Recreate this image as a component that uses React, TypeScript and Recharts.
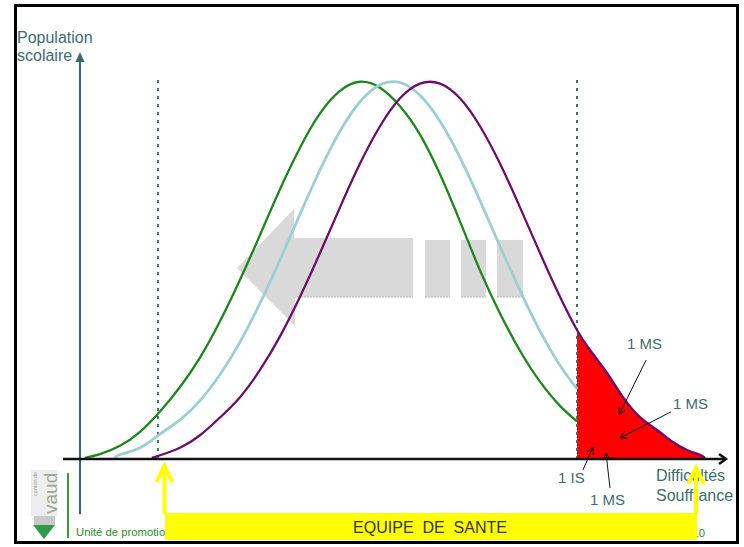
import React from "react";
import { ComposedChart, Line, Area, XAxis, YAxis, ReferenceLine } from "recharts";

const W = 744;
const H = 547;
const FONT = '"Liberation Sans", Arial, sans-serif';
const TEAL = "#3d6c6c";

// x = difficulté / souffrance, v = population scolaire (100 = sommet de la courbe)
const greenX = [0.5, 2, 4, 6, 8, 10, 12, 14, 16, 18, 20, 22, 24, 26, 28, 30, 32, 34, 36, 38, 40, 42, 44, 46, 48, 49.7];
const greenV = [0.3, 1.3, 3.5, 7.2, 12.6, 19.1, 26.9, 36.5, 47.5, 59.4, 71.5, 82.5, 91.6, 97.6, 100, 98.4, 93.5, 86, 75.5, 63, 50, 38.6, 28.7, 20.5, 14.1, 10];

const blueX = [3.5, 4, 6, 8, 10, 12, 14, 16, 18, 20, 22, 24, 26, 28, 30, 32, 34, 36, 38, 40, 42, 44, 46, 48, 49.7];
const blueV = [0.3, 1.2, 3, 6.6, 10.4, 15.5, 22.4, 31, 41.3, 52.8, 64.9, 76.6, 86.9, 94.7, 99.2, 99.8, 96.4, 89.5, 79.9, 68.5, 56.4, 44.7, 33.9, 24.8, 18.6];

const purpleX = [7.2, 8, 10, 12, 14, 16, 18, 20, 22, 24, 26, 28, 30, 32, 34, 36, 38, 40, 42, 44, 46, 48, 49.7, 51, 52.7, 54.3, 56, 57.7, 59.3, 60.7, 62, 62.5];
const purpleV = [0.3, 1, 3, 6.3, 11, 16.4, 23.6, 32.5, 43, 54.6, 66.7, 78.3, 88.2, 95.6, 99.5, 99.5, 95.6, 88.2, 78.3, 66.7, 54.6, 43, 34.2, 28.9, 22.8, 16.4, 11.1, 7.7, 4.5, 2.4, 1.1, 0.3];

const seuilBas = 7.8;
const seuilHaut = 49.7;

// flèches des annotations (départ -> pointe)
const noteFrom = [[56.6, 26.2], [59.1, 12.5], [50.3, -2.9], [53.0, -7.7]];
const noteTo = [[53.9, 11.7], [54.0, 5.6], [51.3, 3.2], [52.6, 1.6]];

const zip = (xs: number[], vs: number[]) => xs.map((x, i) => ({ x, v: vs[i] }));
const green = zip(greenX, greenV);
const blue = zip(blueX, blueV);
const purple = zip(purpleX, purpleV);
const red = purple.filter((d) => d.x >= seuilHaut);

const arrowShape = (color: string, width: number, head: number, half: number, filled: boolean) => (p: any) => {
  const { x1, y1, x2, y2 } = p;
  if (x1 == null || x2 == null) return <g />;
  const a = Math.atan2(y2 - y1, x2 - x1);
  const c = Math.cos(a);
  const s = Math.sin(a);
  const bx = x2 - head * c;
  const by = y2 - head * s;
  const pts = `${bx + half * s},${by - half * c} ${x2},${y2} ${bx - half * s},${by + half * c}`;
  return (
    <g>
      <line x1={x1} y1={y1} x2={filled ? bx : x2} y2={filled ? by : y2} stroke={color} strokeWidth={width} />
      {filled ? (
        <polygon points={pts} fill={color} />
      ) : (
        <polyline points={pts} fill="none" stroke={color} strokeWidth={width} />
      )}
    </g>
  );
};

const Underlay = () => (
  <svg width={W} height={H} style={{ position: "absolute", left: 0, top: 0 }}>
    <polygon points="294,209 237,268 295,326 295,238 294,238" fill="#d9d9d9" />
    <rect x={294} y={238} width={119} height={59} fill="#d9d9d9" />
    <rect x={425} y={240} width={25} height={57} fill="#d9d9d9" />
    <rect x={461} y={240} width={25} height={57} fill="#d9d9d9" />
    <rect x={497} y={240} width={26} height={57} fill="#d9d9d9" />
    <g stroke="#b4b4b4" strokeWidth={1} strokeDasharray="2 1">
      <line x1={295} y1={297} x2={413} y2={297} />
      <line x1={425} y1={297} x2={450} y2={297} />
      <line x1={461} y1={297} x2={486} y2={297} />
      <line x1={497} y1={297} x2={523} y2={297} />
    </g>
  </svg>
);

const Overlay = () => (
  <svg width={W} height={H} style={{ position: "absolute", left: 0, top: 0, fontFamily: FONT }}>
    <text x={17} y={43} fontSize={16} fill={TEAL}>Population</text>
    <text x={17} y={61} fontSize={16} fill={TEAL}>scolaire</text>

    <text x={627} y={349} fontSize={15} fill={TEAL}>1 MS</text>
    <text x={673} y={409} fontSize={15} fill={TEAL}>1 MS</text>
    <text x={558} y={483} fontSize={15} fill={TEAL}>1 IS</text>
    <text x={590} y={505} fontSize={15} fill={TEAL}>1 MS</text>

    <text x={656} y={481} fontSize={16} fill={TEAL}>Difficultés</text>
    <text x={656} y={501} fontSize={16} fill={TEAL}>Souffrance</text>

    {/* pied de page */}
    <line x1={68} y1={473} x2={68} y2={538} stroke="#3a9a3a" strokeWidth={2} />
    <text x={76} y={536} fontSize={11.3} fill="#2e8b2e">Unité de promotion de la santé et de prévention</text>
    <text x={705} y={537} fontSize={11.3} fill="#2e8b2e" textAnchor="end">2010</text>

    {/* logo */}
    <rect x={31} y={470} width={26} height={46} fill="#eeeeee" />
    <text transform="translate(37,496) rotate(-90)" fontSize={5.5} fill="#a0a0a0">canton de</text>
    <text transform="translate(56.5,514) rotate(-90)" fontSize={19} fill="#98a898">vaud</text>
    <rect x={34} y={516} width={21} height={9} fill="#c9c9c9" />
    <polygon points="33,525 55,525 44,539" fill="#2f9a48" />

    {/* équipe de santé */}
    <rect x={165} y={513} width={532} height={27} fill="#ffff00" />
    <text x={430} y={533} fontSize={16} fill="#333" textAnchor="middle" style={{ whiteSpace: "pre" }}>
      EQUIPE  DE  SANTE
    </text>
    <g stroke="#ffff00" strokeWidth={4} fill="none">
      <line x1={164.5} y1={467} x2={164.5} y2={514} />
      <polyline points="156.5,482 164.5,466 172.5,482" />
      <line x1={696} y1={469} x2={696} y2={514} />
      <polyline points="688,484 696,468 704,484" />
    </g>

    <rect x={15.5} y={5.5} width={722} height={537} fill="none" stroke="#000" strokeWidth={3} />
  </svg>
);

export default function App() {
  return (
    <div style={{ position: "absolute", left: 0, top: 0, width: W, height: H, background: "#fff", fontFamily: FONT }}>
      <Underlay />
      <div style={{ position: "absolute", left: 0, top: 0 }}>
        <ComposedChart width={W} height={H} margin={{ top: 44, right: 4, bottom: 12.5, left: 60 }}>
          <XAxis type="number" dataKey="x" domain={[-2, 66]} allowDataOverflow hide height={0} />
          <YAxis type="number" domain={[-20, 110]} allowDataOverflow hide width={0} />

          <ReferenceLine segment={[{ x: seuilBas, y: 0 }, { x: seuilBas, y: 101.3 }]} ifOverflow="visible" stroke="#2f6666" strokeWidth={1.8} strokeDasharray="3 5" />
          <ReferenceLine segment={[{ x: seuilHaut, y: 0 }, { x: seuilHaut, y: 101.3 }]} ifOverflow="visible" stroke="#2f6666" strokeWidth={1.8} strokeDasharray="3 5" />

          <Line data={green} dataKey="v" type="natural" stroke="#1d861d" strokeWidth={2.3} dot={false} activeDot={false} isAnimationActive={false} />
          <Line data={blue} dataKey="v" type="natural" stroke="#9ccfd3" strokeWidth={2.8} dot={false} activeDot={false} isAnimationActive={false} />
          <Line data={purple} dataKey="v" type="natural" stroke="#6b0f6b" strokeWidth={2.3} dot={false} activeDot={false} isAnimationActive={false} />
          <Area data={red} dataKey="v" type="natural" baseValue={0} fill="#ff0000" fillOpacity={1} stroke="#6d7fb3" strokeWidth={1} dot={false} activeDot={false} isAnimationActive={false} />

          <ReferenceLine segment={[{ x: 0, y: -14.6 }, { x: 0, y: 107.9 }]} ifOverflow="visible" shape={arrowShape("#3a6b6b", 2, 10, 4.5, true)} />
          <ReferenceLine segment={[{ x: -1.7, y: 0 }, { x: 64.6, y: 0 }]} ifOverflow="visible" shape={arrowShape("#111", 2.5, 7, 5, false)} />

          {noteFrom.map((f, i) => (
            <ReferenceLine
              key={i}
              segment={[{ x: f[0], y: f[1] }, { x: noteTo[i][0], y: noteTo[i][1] }]}
              ifOverflow="visible"
              shape={arrowShape("#111", 1, 7, 3.5, false)}
            />
          ))}
        </ComposedChart>
      </div>
      <Overlay />
    </div>
  );
}
